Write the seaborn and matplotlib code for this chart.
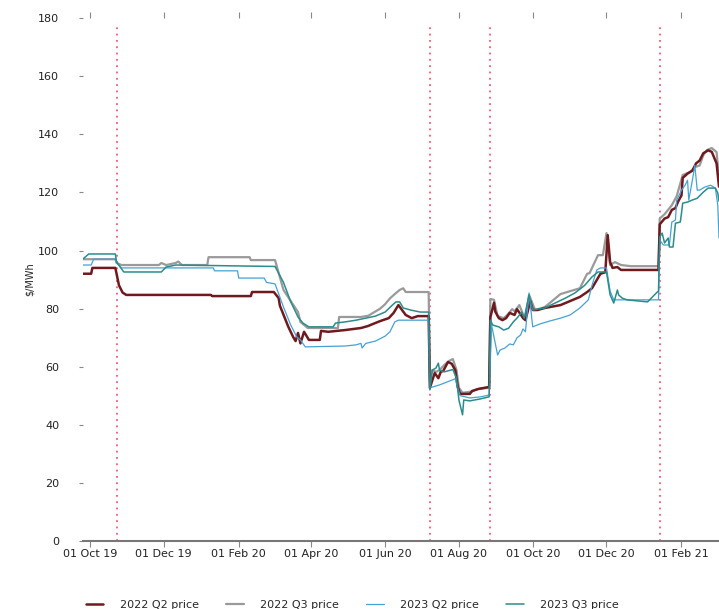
import pandas as pd
import seaborn as sns
import matplotlib.pyplot as plt
import matplotlib.dates as mdates

# 2022 Q2 price
q2_22_dates = ["2019-09-25", "2019-10-02", "2019-10-03", "2019-10-22", "2019-10-23", "2019-10-25", "2019-10-28",
               "2019-10-31", "2020-01-09", "2020-01-10", "2020-02-11", "2020-02-12", "2020-03-01", "2020-03-05",
               "2020-03-06", "2020-03-13", "2020-03-17", "2020-03-19", "2020-03-21", "2020-03-23", "2020-03-26",
               "2020-03-28", "2020-03-30", "2020-04-08", "2020-04-09", "2020-04-15", "2020-04-29", "2020-05-12",
               "2020-05-18", "2020-05-22", "2020-05-28", "2020-06-04", "2020-06-08", "2020-06-12", "2020-06-15",
               "2020-06-18", "2020-06-23", "2020-06-28", "2020-07-07", "2020-07-08", "2020-07-12", "2020-07-15",
               "2020-07-17", "2020-07-19", "2020-07-23", "2020-07-26", "2020-07-29", "2020-07-31", "2020-08-02",
               "2020-08-10", "2020-08-12", "2020-08-17", "2020-08-26", "2020-08-27", "2020-08-30", "2020-08-31",
               "2020-09-03", "2020-09-06", "2020-09-09", "2020-09-12", "2020-09-16", "2020-09-18", "2020-09-21",
               "2020-09-23", "2020-09-25", "2020-09-29", "2020-10-01", "2020-10-05", "2020-10-11", "2020-10-24",
               "2020-11-09", "2020-11-15", "2020-11-19", "2020-11-26", "2020-11-30", "2020-12-02", "2020-12-04",
               "2020-12-06", "2020-12-10", "2020-12-13", "2021-01-13", "2021-01-14", "2021-01-18", "2021-01-21",
               "2021-01-24", "2021-01-27", "2021-01-29", "2021-02-01", "2021-02-02", "2021-02-06", "2021-02-10",
               "2021-02-13", "2021-02-16", "2021-02-19", "2021-02-23", "2021-02-26", "2021-03-02", "2021-03-04"]
q2_22_vals = [92, 92, 94, 94, 92, 88, 85.5,
              84.7, 84.7, 84.3, 84.3, 85.7, 85.7, 83.6,
              81, 73.7, 70.2, 68.8, 71.6, 68, 72,
              70.6, 69.2, 69.2, 72.3, 72, 72.6, 73.3,
              74, 74.7, 75.7, 76.7, 78.5, 81.2, 79.5,
              77.8, 76.7, 77.4, 77.4, 52.7, 57.8, 56,
              58.2, 58.5, 61.6, 61, 58.8, 53, 50.6,
              50.6, 51.6, 52.3, 53, 77, 82, 79,
              76.7, 76, 76.7, 78.5, 77.8, 79.8, 78,
              76.7, 76, 82.6, 79.5, 79.5, 80.2, 81.2,
              84, 85.7, 87, 92, 92.5, 105.3, 96,
              94, 94.3, 93.3, 93.3, 109, 111, 111.5,
              114, 114.6, 116.7, 119, 125, 126.5, 127.5,
              130, 131, 133.5, 134.5, 134, 130, 122]

# 2022 Q3 price
q3_22_dates = ["2019-09-25", "2019-10-22", "2019-10-23", "2019-10-27", "2019-11-27", "2019-11-29", "2019-12-03",
               "2019-12-11", "2019-12-13", "2019-12-16", "2020-01-06", "2020-01-07", "2020-02-10", "2020-02-11",
               "2020-03-02", "2020-03-09", "2020-03-21", "2020-03-23", "2020-03-29", "2020-04-23", "2020-04-24",
               "2020-05-12", "2020-05-18", "2020-05-22", "2020-05-28", "2020-06-01", "2020-06-05", "2020-06-09",
               "2020-06-13", "2020-06-16", "2020-06-18", "2020-07-07", "2020-07-08", "2020-07-10", "2020-07-13",
               "2020-07-16", "2020-07-20", "2020-07-24", "2020-07-27", "2020-07-30", "2020-08-01", "2020-08-04",
               "2020-08-10", "2020-08-17", "2020-08-26", "2020-08-27", "2020-08-30", "2020-09-02", "2020-09-07",
               "2020-09-10", "2020-09-14", "2020-09-16", "2020-09-20", "2020-09-23", "2020-09-25", "2020-09-28",
               "2020-10-03", "2020-10-11", "2020-10-24", "2020-11-01", "2020-11-09", "2020-11-15", "2020-11-17",
               "2020-11-24", "2020-11-28", "2020-12-01", "2020-12-04", "2020-12-08", "2020-12-13", "2020-12-21",
               "2021-01-13", "2021-01-14", "2021-01-18", "2021-01-24", "2021-01-28", "2021-02-02", "2021-02-08",
               "2021-02-12", "2021-02-16", "2021-02-19", "2021-02-22", "2021-02-26", "2021-03-02", "2021-03-04"]
q3_22_vals = [97, 97, 95.7, 95, 95, 95.7, 95,
              95.7, 96.2, 95, 95, 97.7, 97.7, 96.7,
              96.7, 86.4, 78.8, 75.4, 73.3, 73.3, 77.1,
              77.1, 77.5, 78.5, 80, 81.5, 83.5, 85,
              86.4, 87, 85.7, 85.7, 55, 58.8, 58.2,
              58.8, 60.6, 62, 62.6, 58.8, 52.7, 51,
              51.3, 52.3, 52.7, 83.3, 83, 77.4, 76.7,
              77.8, 79.8, 79.1, 81.2, 78, 77, 84.7,
              79.5, 80.5, 85, 86, 87, 92, 92.2,
              98.4, 98.4, 106, 95, 96, 95, 94.6,
              94.6, 111, 112.5, 115.6, 118.7, 126, 127,
              128.7, 129.3, 132.8, 134.6, 135.3, 133.9, 125]

# 2023 Q2 price
q2_23_dates = ["2019-09-25", "2019-10-02", "2019-10-04", "2019-10-22", "2019-10-25", "2019-10-27", "2020-01-11",
               "2020-01-12", "2020-01-31", "2020-02-01", "2020-02-22", "2020-02-24", "2020-03-02", "2020-03-09",
               "2020-03-15", "2020-03-20", "2020-03-23", "2020-03-27", "2020-04-29", "2020-05-08", "2020-05-12",
               "2020-05-13", "2020-05-16", "2020-05-24", "2020-06-01", "2020-06-05", "2020-06-09", "2020-06-12",
               "2020-07-07", "2020-07-08", "2020-07-16", "2020-07-24", "2020-07-29", "2020-07-31", "2020-08-02",
               "2020-08-10", "2020-08-19", "2020-08-26", "2020-08-28", "2020-09-02", "2020-09-04", "2020-09-08",
               "2020-09-12", "2020-09-15", "2020-09-18", "2020-09-21", "2020-09-23", "2020-09-25", "2020-09-28",
               "2020-10-01", "2020-10-07", "2020-10-15", "2020-10-24", "2020-11-01", "2020-11-09", "2020-11-16",
               "2020-11-19", "2020-11-23", "2020-11-26", "2020-12-01", "2020-12-04", "2020-12-07", "2021-01-13",
               "2021-01-14", "2021-01-17", "2021-01-22", "2021-01-24", "2021-01-27", "2021-01-28", "2021-01-30",
               "2021-02-01", "2021-02-04", "2021-02-06", "2021-02-07", "2021-02-10", "2021-02-12", "2021-02-14",
               "2021-02-16", "2021-02-20", "2021-02-25", "2021-03-01", "2021-03-03", "2021-03-04"]
q2_23_vals = [95, 95, 97, 97, 95, 94, 94,
              93, 93, 90.5, 90.5, 89, 88.5, 80.5,
              74.3, 70.2, 69.2, 66.8, 67.1, 67.5, 68,
              66.4, 68, 68.8, 70.5, 72, 75.4, 76,
              76, 52.7, 53.7, 55, 55.8, 52.7, 50,
              49.2, 49.6, 50.2, 74.3, 64, 65.7, 66.4,
              67.8, 67.5, 69.9, 70.9, 73, 72, 85.4,
              73.7, 74.7, 75.7, 76.7, 77.8, 80.2, 83,
              88, 93.3, 94, 94, 86, 83, 83,
              103.6, 101.9, 101.9, 109.8, 110.5, 117.4, 119,
              120.8, 122.5, 124.2, 117.4, 124.2, 129.4, 120.8,
              120.8, 121.8, 122.5, 121.5, 115.6, 104.3]

# 2023 Q3 price
q3_23_dates = ["2019-09-25", "2019-09-30", "2019-10-22", "2019-10-23", "2019-10-29", "2019-11-29", "2019-12-03",
               "2019-12-11", "2020-03-02", "2020-03-09", "2020-03-15", "2020-03-21", "2020-03-25", "2020-03-30",
               "2020-04-19", "2020-04-21", "2020-04-29", "2020-05-08", "2020-05-16", "2020-05-24", "2020-06-01",
               "2020-06-07", "2020-06-10", "2020-06-13", "2020-06-16", "2020-06-22", "2020-06-30", "2020-07-07",
               "2020-07-08", "2020-07-10", "2020-07-13", "2020-07-15", "2020-07-16", "2020-07-20", "2020-07-27",
               "2020-07-30", "2020-08-01", "2020-08-04", "2020-08-05", "2020-08-10", "2020-08-19", "2020-08-26",
               "2020-08-27", "2020-08-29", "2020-09-03", "2020-09-07", "2020-09-11", "2020-09-15", "2020-09-18",
               "2020-09-22", "2020-09-24", "2020-09-28", "2020-10-01", "2020-10-11", "2020-10-20", "2020-10-28",
               "2020-11-05", "2020-11-13", "2020-11-19", "2020-11-24", "2020-12-01", "2020-12-04", "2020-12-07",
               "2020-12-10", "2020-12-11", "2020-12-14", "2020-12-18", "2021-01-04", "2021-01-12", "2021-01-13",
               "2021-01-14", "2021-01-16", "2021-01-18", "2021-01-21", "2021-01-22", "2021-01-25", "2021-01-27",
               "2021-01-31", "2021-02-01", "2021-02-02", "2021-02-06", "2021-02-10", "2021-02-14", "2021-02-19",
               "2021-02-23", "2021-03-01", "2021-03-03", "2021-03-04"]
q3_23_vals = [97, 98.8, 98.8, 96, 92.6, 92.6, 94.3,
              95, 94.5, 89, 82.3, 77.1, 75, 73.7,
              73.7, 75, 75.4, 76, 76.7, 77.4, 78.8,
              81.2, 82.3, 82.3, 80.2, 79.5, 78.8, 78.8,
              52, 58.8, 59.5, 61.2, 58.8, 58.2, 59,
              56, 48.5, 43.4, 48.5, 48.2, 48.9, 49.6,
              76, 74.3, 73.7, 72.6, 73.2, 75.4, 76.7,
              78.8, 76.7, 84.7, 79.5, 80.2, 82, 83.6,
              85.4, 88, 90.9, 92.6, 92.6, 84.7, 81.9,
              86.4, 84.7, 83.6, 83, 82.3, 85.7, 86,
              104.6, 106, 102.6, 104.3, 101.2, 101.2, 109.4,
              109.8, 112.9, 116.3, 116.7, 117.4, 118, 120.1,
              121.5, 121.5, 119.8, 117]

event_dates = ["2019-10-23", "2020-07-08", "2020-08-27", "2021-01-14"]
tick_dates = ["2019-10-01", "2019-12-01", "2020-02-01", "2020-04-01", "2020-06-01",
              "2020-08-01", "2020-10-01", "2020-12-01", "2021-02-01"]

series = [
    ("2022 Q2 price", q2_22_dates, q2_22_vals, "#6e1a1e", 1.8, 3),
    ("2022 Q3 price", q3_22_dates, q3_22_vals, "#9a9a9a", 1.6, 2),
    ("2023 Q2 price", q2_23_dates, q2_23_vals, "#45a2d4", 0.9, 4),
    ("2023 Q3 price", q3_23_dates, q3_23_vals, "#2b8c8c", 1.1, 5),
]

sns.set_style("white")
plt.rcParams["font.family"] = ["DejaVu Sans"]

fig = plt.figure(figsize=(7.19, 6.09), dpi=100)
ax = fig.add_axes([0.115, 0.112, 0.885, 0.858])

for name, d, v, col, lw, z in series:
    sns.lineplot(x=pd.to_datetime(d), y=v, ax=ax, color=col, linewidth=lw,
                 label=name, estimator=None, sort=False, zorder=z)

# contract roll dates
for d in event_dates:
    ax.axvline(pd.to_datetime(d), ymin=0, ymax=0.99, color="#f25a78",
               linestyle=(0, (1, 2.5)), linewidth=1.3, zorder=1)

ax.set_xlim(pd.to_datetime("2019-09-25"), pd.to_datetime("2021-03-04"))
ax.set_ylim(0, 180)
ax.set_yticks(range(0, 181, 20))
ax.set_xticks(pd.to_datetime(tick_dates))
ax.xaxis.set_major_formatter(mdates.DateFormatter("%d %b %y"))

for s in ["left", "top", "right"]:
    ax.spines[s].set_visible(False)
ax.spines["bottom"].set_color("#777777")
ax.spines["bottom"].set_linewidth(1.5)

ax.tick_params(axis="x", bottom=True, top=True, direction="out", length=4,
               width=0.8, color="#888888", labelsize=8, pad=2, labelcolor="#222222")
ax.tick_params(axis="y", left=True, direction="out", length=3, width=0.8,
               color="#888888", labelsize=8, pad=14, labelcolor="#222222")

ax.set_xlabel("")
ax.set_ylabel("\\$/MWh", fontsize=7, labelpad=2)

ax.legend(loc="center", bbox_to_anchor=(0.49, 0.006), bbox_transform=fig.transFigure,
          ncol=4, frameon=False, fontsize=8, handlelength=1.6, handletextpad=1.5,
          columnspacing=2.4)

fig.savefig("out.png", dpi=100)
